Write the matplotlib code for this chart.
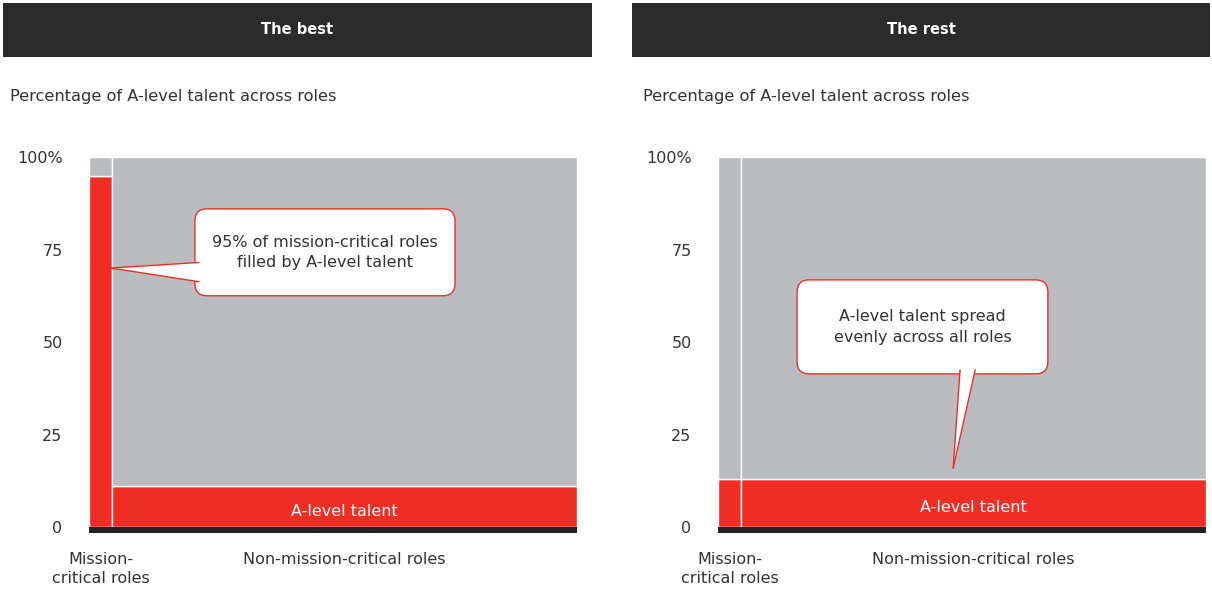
import matplotlib
matplotlib.use("Agg")
import matplotlib.pyplot as plt
from matplotlib.patches import FancyBboxPatch, Polygon, Rectangle

# data
categories = ["Mission-\ncritical roles", "Non-mission-critical roles"]
role_share = [4.7, 95.3]          # width of each column (% of roles)
best_alevel = [95, 11]            # % A-level talent, "The best"
rest_alevel = [13, 13]            # % A-level talent, "The rest"
panel_titles = ["The best", "The rest"]
subtitle = "Percentage of A-level talent across roles"
yticks = [0, 25, 50, 75, 100]
ytick_labels = ["0", "25", "50", "75", "100%"]

RED = "#EE2E24"
GRAY = "#BBBCC0"
DARK = "#2B2B2B"
TXT = "#333333"

plt.rcParams['font.family'] = ['DejaVu Sans']

W, H = 1212, 590
fig = plt.figure(figsize=(W / 100, H / 100), dpi=100)


def px_ax(x0, y0, x1, y1):
    # pixel box (top-left origin) -> figure axes
    return fig.add_axes([x0 / W, 1 - y1 / H, (x1 - x0) / W, (y1 - y0) / H])


def callout(ax, box, tip, base, text):
    (x0, y0, x1, y1) = box
    asp = (488 / 100) / (376 / 101.6)
    p = FancyBboxPatch((x0, y0), x1 - x0, y1 - y0,
                       boxstyle="round,pad=0,rounding_size=2.5",
                       mutation_aspect=asp, fc="white", ec=RED, lw=1.0, zorder=5)
    ax.add_patch(p)
    tri = Polygon([tip, base[0], base[1], base[2]], closed=True, fc="white", ec="none", zorder=6)
    ax.add_patch(tri)
    ax.plot([tip[0], base[0][0]], [tip[1], base[0][1]], color=RED, lw=1.0, zorder=7)
    ax.plot([tip[0], base[2][0]], [tip[1], base[2][1]], color=RED, lw=1.0, zorder=7)
    ax.text((x0 + x1) / 2, (y0 + y1) / 2, text, ha="center", va="center",
            fontsize=11.5, color=TXT, zorder=8, linespacing=1.45)


def panel(idx, px0, hx0, hx1, sub_x, alevel):
    # header
    hax = px_ax(hx0, 3, hx1, 57)
    hax.set_facecolor(DARK)
    hax.set_xticks([])
    hax.set_yticks([])
    for s in hax.spines.values():
        s.set_visible(False)
    hax.text(0.5, 0.5, panel_titles[idx], ha="center", va="center",
             color="white", fontsize=10.5, fontweight="bold")

    fig.text(sub_x / W, 1 - 97 / H, subtitle, ha="left", va="center", fontsize=11.7, color=TXT)

    ax = px_ax(px0, 157, px0 + 488, 533)
    lefts = [0]
    for w in role_share[:-1]:
        lefts.append(lefts[-1] + w)
    ax.bar(lefts, alevel, width=role_share, align="edge", color=RED, ec="white", lw=1.0)
    ax.bar(lefts, [100 - a for a in alevel], bottom=alevel, width=role_share,
           align="edge", color=GRAY, ec="white", lw=1.0)
    ax.add_patch(Rectangle((0, -1.6), 100, 1.6, fc="#222222", ec="none", zorder=4))
    ax.set_xlim(0, 100)
    ax.set_ylim(-1.6, 100)
    for s in ax.spines.values():
        s.set_visible(False)
    ax.set_yticks(yticks)
    ax.set_yticklabels(ytick_labels, fontsize=11.5, color=TXT)
    ax.tick_params(axis="y", length=0, pad=19)
    centers = [l + w / 2 for l, w in zip(lefts, role_share)]
    ax.set_xticks(centers)
    ax.set_xticklabels(categories, fontsize=11.5, color=TXT, linespacing=1.3)
    ax.tick_params(axis="x", length=0, pad=14)
    ax.text(centers[1], alevel[1] / 2 - 1.2, "A-level talent", ha="center", va="center",
            color="white", fontsize=11.5)
    return ax


ax1 = panel(0, 89, 3, 592, 10, best_alevel)
callout(ax1, (21.7, 62.5, 75.0, 86.0), (4.5, 70.0),
        [(22.5, 71.5), (22.5, 69.0), (22.5, 66.3)],
        "95% of mission-critical roles\nfilled by A-level talent")

ax2 = panel(1, 718, 632, 1210, 643, rest_alevel)
callout(ax2, (16.2, 41.4, 67.6, 66.8), (48.2, 16.0),
        [(49.6, 42.4), (51.0, 42.4), (52.7, 42.4)],
        "A-level talent spread\nevenly across all roles")

fig.savefig("out.png", dpi=100)
